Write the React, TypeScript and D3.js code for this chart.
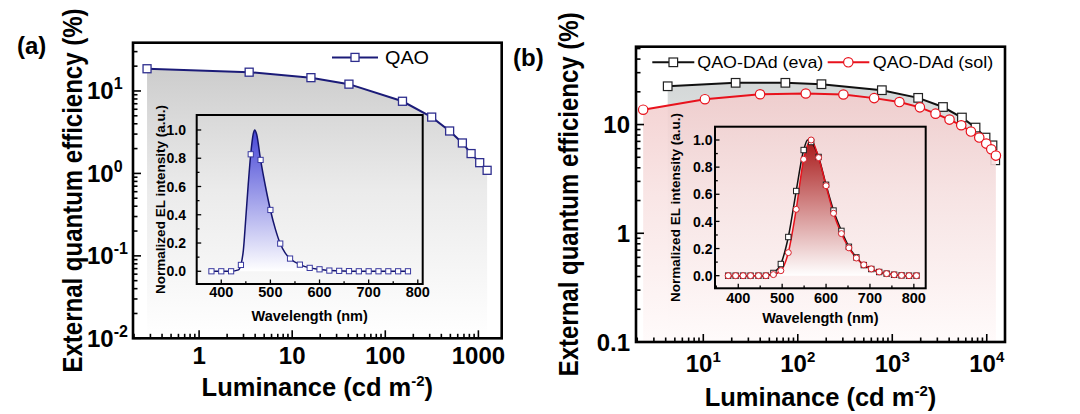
import React from "react";
import * as d3 from "d3";

const FONT = "'Liberation Sans', Arial, Helvetica, sans-serif";

// ---------- Panel (a): QAO EQE vs luminance ----------
const qaoLum = [0.276, 3.45, 15.9, 40.7, 153, 315, 491, 673, 835, 1033, 1241];
const qaoEqe = [18.6, 16.9, 14.5, 12.1, 7.5, 4.82, 3.27, 2.34, 1.74, 1.35, 1.09];

// Panel (a) inset: EL spectrum markers and line
const qaoWl = [380, 400, 420, 440, 460, 480, 500, 520, 540, 560, 580, 600, 620, 640, 660, 680, 700, 720, 740, 760, 780];
const qaoEl = [0, 0, 0, 0.045, 0.828, 0.788, 0.434, 0.196, 0.09, 0.047, 0.024, 0.014, 0.005, 0.003, 0.001, 0, 0, 0, 0, 0, 0];
const qaoLineWl = [380, 420, 435, 440, 445, 450, 455, 460, 465, 468, 472, 480, 490, 500, 510, 520, 530, 540, 560, 580, 600, 620, 640, 660, 780];
const qaoLineEl = [0, 0, 0.01, 0.045, 0.15, 0.38, 0.62, 0.83, 0.97, 1.0, 0.97, 0.79, 0.6, 0.434, 0.3, 0.196, 0.13, 0.09, 0.047, 0.024, 0.014, 0.005, 0.003, 0.001, 0];

// ---------- Panel (b): QAO-DAd (eva) / (sol) ----------
const evaLum = [4.2, 22.0, 73.9, 178, 776, 1880, 3440, 5460, 7610, 9710, 11500, 12300];
const evaEqe = [22.5, 24.2, 24.2, 23.5, 20.7, 17.6, 14.5, 11.6, 9.38, 7.59, 6.44, 4.69];
const solLum = [2.31, 10.4, 39.9, 121.5, 304, 643, 1191, 1960, 2870, 4035, 5370, 6800, 8330, 9880, 11160, 12500];
const solEqe = [13.7, 17.1, 19.0, 19.3, 18.9, 17.5, 16.1, 14.4, 12.6, 11.1, 9.85, 8.62, 7.59, 6.68, 5.92, 5.18];

// Panel (b) inset spectra
const bWl = [377, 394, 411, 428, 446, 463, 480, 497, 514, 532, 549, 566, 583, 600, 617, 635, 652, 669, 686, 703, 721, 738, 755, 772, 789, 806];
const evaEl = [0, 0, 0, 0, 0, 0, 0.02, 0.086, 0.285, 0.624, 0.926, 0.985, 0.875, 0.67, 0.48, 0.33, 0.213, 0.135, 0.078, 0.049, 0.027, 0.015, 0.007, 0.002, 0, 0];
const solEl = [0, 0, 0, 0, 0, 0, 0.008, 0.037, 0.17, 0.489, 0.858, 1.0, 0.87, 0.663, 0.46, 0.31, 0.205, 0.13, 0.08, 0.05, 0.028, 0.015, 0.007, 0.002, 0, 0];
const evaLineWl = [377, 463, 480, 497, 514, 532, 549, 558, 566, 583, 600, 617, 635, 652, 669, 686, 703, 721, 738, 755, 772, 789, 806];
const evaLineEl = [0, 0, 0.02, 0.086, 0.285, 0.624, 0.926, 1.0, 0.985, 0.875, 0.67, 0.48, 0.33, 0.213, 0.135, 0.078, 0.049, 0.027, 0.015, 0.007, 0.002, 0, 0];

// tick labels
const aXTicks = [1, 10, 100, 1000];
const aYTicks = [0.01, 0.1, 1, 10];
const aYExp = ["-2", "-1", "0", "1"];
const bXTicks = [10, 100, 1000, 10000];
const bXExp = ["1", "2", "3", "4"];
const bYTicks = [0.1, 1, 10];
const bYLabels = ["0.1", "1", "10"];
const insetXTicks = [400, 500, 600, 700, 800];
const insetYTicks = [0, 0.2, 0.4, 0.6, 0.8, 1.0];

function logTicks(domain: number[]) {
  const [a, b] = domain;
  const out: { v: number; major: boolean }[] = [];
  for (let e = Math.floor(Math.log10(a)) - 1; e <= Math.ceil(Math.log10(b)); e++) {
    for (let k = 1; k <= 9; k++) {
      const v = k * Math.pow(10, e);
      if (v >= a * 0.9999 && v <= b * 1.0001) out.push({ v, major: k === 1 });
    }
  }
  return out;
}

function linTicks(domain: number[], step: number, majorStep: number) {
  const out: { v: number; major: boolean }[] = [];
  const start = Math.ceil(domain[0] / step - 1e-9) * step;
  for (let v = start; v <= domain[1] + 1e-9; v += step) {
    const r = Math.round(v / step) * step;
    out.push({ v: r, major: Math.abs(r / majorStep - Math.round(r / majorStep)) < 1e-6 });
  }
  return out;
}

function Frame({ x, y, w, h, sw }: any) {
  return <rect x={x} y={y} width={w} height={h} fill="none" stroke="#000" strokeWidth={sw} />;
}

export default function App() {
  // ----- scales -----
  const xA = d3.scaleLog().domain([0.195, 1780]).range([133, 501.7]);
  const yA = d3.scaleLog().domain([0.01, 38.5]).range([338.3, 42.7]);
  const xB = d3.scaleLog().domain([1.94, 15600]).range([636, 1005]);
  const yB = d3.scaleLog().domain([0.1, 52]).range([342, 46.7]);
  const ixA = d3.scaleLinear().domain([350, 810]).range([196.7, 422.7]);
  const iyA = d3.scaleLinear().domain([-0.09, 1.106]).range([284, 115]);
  const ixB = d3.scaleLinear().domain([347, 827]).range([715, 925.7]);
  const iyB = d3.scaleLinear().domain([-0.093, 1.098]).range([288.3, 126.7]);

  const qao = qaoLum.map((l, i) => [l, qaoEqe[i]] as [number, number]);
  const eva = evaLum.map((l, i) => [l, evaEqe[i]] as [number, number]);
  const sol = solLum.map((l, i) => [l, solEqe[i]] as [number, number]);

  const lineA = d3.line<[number, number]>().x((d) => xA(d[0])).y((d) => yA(d[1]));
  const areaA = d3.area<[number, number]>().x((d) => xA(d[0])).y0(yA.range()[0]).y1((d) => yA(d[1]));
  const lineB = d3.line<[number, number]>().x((d) => xB(d[0])).y((d) => yB(d[1]));
  const areaB = d3.area<[number, number]>().x((d) => xB(d[0])).y0(yB.range()[0]).y1((d) => yB(d[1]));

  const qaoLine = qaoLineWl.map((w, i) => [w, qaoLineEl[i]] as [number, number]);
  const qaoPts = qaoWl.map((w, i) => [w, qaoEl[i]] as [number, number]);
  const iLineA = d3.line<[number, number]>().x((d) => ixA(d[0])).y((d) => iyA(d[1])).curve(d3.curveMonotoneX);
  const iAreaA = d3.area<[number, number]>().x((d) => ixA(d[0])).y0(iyA(0)).y1((d) => iyA(d[1])).curve(d3.curveMonotoneX);

  const evaLine = evaLineWl.map((w, i) => [w, evaLineEl[i]] as [number, number]);
  const solLine = bWl.map((w, i) => [w, solEl[i]] as [number, number]);
  const evaPts = bWl.map((w, i) => [w, evaEl[i]] as [number, number]);
  const iLineB = d3.line<[number, number]>().x((d) => ixB(d[0])).y((d) => iyB(d[1])).curve(d3.curveMonotoneX);
  const iAreaB = d3.area<[number, number]>().x((d) => ixB(d[0])).y0(iyB(0)).y1((d) => iyB(d[1])).curve(d3.curveMonotoneX);

  const [ax0, ax1] = xA.range();
  const [ay0, ay1] = yA.range();
  const [bx0, bx1] = xB.range();
  const [by0, by1] = yB.range();

  const tickStroke = 1.6;

  const renderLogLeft = (scale: any, x0: number, key: string) =>
    logTicks(scale.domain()).map((t, i) => (
      <line key={key + i} x1={x0} x2={x0 + (t.major ? 8 : 4.5)} y1={scale(t.v)} y2={scale(t.v)} stroke="#000" strokeWidth={tickStroke} />
    ));
  const renderLogBottom = (scale: any, y0: number, key: string) =>
    logTicks(scale.domain()).map((t, i) => (
      <line key={key + i} x1={scale(t.v)} x2={scale(t.v)} y1={y0} y2={y0 - (t.major ? 8 : 4.5)} stroke="#000" strokeWidth={tickStroke} />
    ));

  const renderInset = (
    ix: any,
    iy: any,
    key: string,
    yLabelEnd: number,
    xLabelBase: number,
    yTitleX: number,
    xTitleY: number
  ) => {
    const [x0, x1] = ix.range();
    const [y0, y1] = iy.range();
    return (
      <g key={key}>
        <Frame x={x0} y={y1} w={x1 - x0} h={y0 - y1} sw={2} />
        {linTicks(ix.domain(), 50, 100).map((t, i) => (
          <line key={key + "xt" + i} x1={ix(t.v)} x2={ix(t.v)} y1={y0} y2={y0 - (t.major ? 4.5 : 2.8)} stroke="#000" strokeWidth={1.3} />
        ))}
        {linTicks([0, 1.05], 0.1, 0.2).map((t, i) => (
          <line key={key + "yt" + i} x1={x0} x2={x0 + (t.major ? 4.5 : 2.8)} y1={iy(t.v)} y2={iy(t.v)} stroke="#000" strokeWidth={1.3} />
        ))}
        {insetXTicks.map((v) => (
          <text key={key + "xl" + v} x={ix(v)} y={xLabelBase} textAnchor="middle" fontSize={14.5} fontWeight="bold">
            {v}
          </text>
        ))}
        {insetYTicks.map((v) => (
          <text key={key + "yl" + v} x={yLabelEnd} y={iy(v) + 5.2} textAnchor="end" fontSize={14} fontWeight="bold">
            {v.toFixed(1)}
          </text>
        ))}
        <text
          transform={`translate(${yTitleX},${(y0 + y1) / 2}) rotate(-90)`}
          textAnchor="middle"
          fontSize={13.5}
          fontWeight="bold"
        >
          Normalized EL intensity (a.u.)
        </text>
        <text x={(x0 + x1) / 2} y={xTitleY} textAnchor="middle" fontSize={14.5} fontWeight="bold">
          Wavelength (nm)
        </text>
      </g>
    );
  };

  return (
    <div style={{ position: "absolute", left: 0, top: 0, width: 1080, height: 414, background: "#fff" }}>
      <svg width={1080} height={414} style={{ display: "block" }} fontFamily={FONT}>
        <defs>
          <linearGradient id="gA" gradientUnits="userSpaceOnUse" x1={0} y1={ay1} x2={0} y2={ay0}>
            <stop offset="0" stopColor="#c6c6c6" />
            <stop offset="0.25" stopColor="#d9d9d9" />
            <stop offset="0.5" stopColor="#ebebeb" />
            <stop offset="0.8" stopColor="#f7f7f7" />
            <stop offset="1" stopColor="#ffffff" />
          </linearGradient>
          <linearGradient id="gBeva" gradientUnits="userSpaceOnUse" x1={0} y1={by1} x2={0} y2={by0}>
            <stop offset="0" stopColor="#ccd0d0" />
            <stop offset="0.5" stopColor="#eceeee" />
            <stop offset="1" stopColor="#ffffff" />
          </linearGradient>
          <linearGradient id="gBsol" gradientUnits="userSpaceOnUse" x1={0} y1={by1} x2={0} y2={by0}>
            <stop offset="0" stopColor="#efc2c2" />
            <stop offset="0.5" stopColor="#f8e2e2" />
            <stop offset="1" stopColor="#fffafa" />
          </linearGradient>
          <linearGradient id="giA" gradientUnits="userSpaceOnUse" x1={0} y1={iyA(1)} x2={0} y2={iyA(0)}>
            <stop offset="0" stopColor="#4646d6" />
            <stop offset="1" stopColor="#ffffff" />
          </linearGradient>
          <linearGradient id="giB" gradientUnits="userSpaceOnUse" x1={0} y1={iyB(1)} x2={0} y2={iyB(0)}>
            <stop offset="0" stopColor="#a81818" />
            <stop offset="1" stopColor="#ffffff" />
          </linearGradient>
        </defs>

        {/* ===================== Panel (a) ===================== */}
        <path d={areaA(qao) || ""} fill="url(#gA)" />
        <path d={lineA(qao) || ""} fill="none" stroke="#1b1b78" strokeWidth={2} />
        {qao.map((d, i) => (
          <rect key={"qa" + i} x={xA(d[0]) - 4} y={yA(d[1]) - 4} width={8} height={8} fill="#fff" stroke="#2e2e8e" strokeWidth={1.3} />
        ))}

        {/* inset (a) */}
        <path d={iAreaA(qaoLine) || ""} fill="url(#giA)" />
        <path d={iLineA(qaoLine) || ""} fill="none" stroke="#15156e" strokeWidth={1.5} />
        {qaoPts.map((d, i) => (
          <rect key={"qi" + i} x={ixA(d[0]) - 2.6} y={iyA(d[1]) - 2.6} width={5.2} height={5.2} fill="#fff" stroke="#3a3aa0" strokeWidth={1} />
        ))}
        {renderInset(ixA, iyA, "insA", 186, 297, 164.5, 321)}

        {/* axes (a) */}
        <Frame x={ax0} y={ay1} w={ax1 - ax0} h={ay0 - ay1} sw={2.6} />
        {renderLogLeft(yA, ax0, "aly")}
        {renderLogBottom(xA, ay0, "abx")}
        {aYTicks.map((v, i) => (
          <text key={"ayl" + i} x={87} y={yA(v) + 8.5} textAnchor="start" fontSize={24} fontWeight="bold">
            10
            <tspan dy={-10} fontSize={16}>
              {aYExp[i]}
            </tspan>
          </text>
        ))}
        {aXTicks.map((v) => (
          <text key={"axl" + v} x={xA(v)} y={364} textAnchor="middle" fontSize={24} fontWeight="bold">
            {v}
          </text>
        ))}
        <text x={(ax0 + ax1) / 2} y={396} textAnchor="middle" fontSize={25.5} fontWeight="bold">
          Luminance (cd m
          <tspan dy={-10} fontSize={15}>
            -2
          </tspan>
          <tspan dy={10}>)</tspan>
        </text>
        <text transform={`translate(82,${(ay0 + ay1) / 2}) scale(1.15,1) rotate(-90)`} textAnchor="middle" fontSize={24} fontWeight="bold">
          External quantum efficiency (%)
        </text>
        {/* legend (a) */}
        <line x1={332} x2={378} y1={57.4} y2={57.4} stroke="#1b1b78" strokeWidth={2} />
        <rect x={351} y={53.4} width={8} height={8} fill="#fff" stroke="#2e2e8e" strokeWidth={1.3} />
        <text x={385} y={64} fontSize={18} textLength={44} lengthAdjust="spacingAndGlyphs">
          QAO
        </text>
        <text x={17} y={54} fontSize={24} fontWeight="bold">
          (a)
        </text>

        {/* ===================== Panel (b) ===================== */}
        <path d={areaB(eva) || ""} fill="url(#gBeva)" />
        <path d={lineB(eva) || ""} fill="none" stroke="#111" strokeWidth={2} />
        {eva.map((d, i) => (
          <rect key={"ev" + i} x={xB(d[0]) - 4.3} y={yB(d[1]) - 4.3} width={8.6} height={8.6} fill="#fff" stroke="#222" strokeWidth={1.2} />
        ))}
        <path d={areaB(sol) || ""} fill="url(#gBsol)" opacity={0.88} />
        <path d={lineB(sol) || ""} fill="none" stroke="#e8121c" strokeWidth={2} />
        {sol.map((d, i) => (
          <circle key={"so" + i} cx={xB(d[0])} cy={yB(d[1])} r={4.7} fill="#fff" stroke="#e8121c" strokeWidth={1.2} />
        ))}

        {/* inset (b) */}
        <path d={iAreaB(solLine) || ""} fill="url(#giB)" />
        <path d={iLineB(evaLine) || ""} fill="none" stroke="#111" strokeWidth={1.5} />
        <path d={iLineB(solLine) || ""} fill="none" stroke="#e8121c" strokeWidth={1.5} />
        {evaPts.map((d, i) => (
          <rect key={"ei" + i} x={ixB(d[0]) - 2.7} y={iyB(d[1]) - 2.7} width={5.4} height={5.4} fill="#fff" stroke="#222" strokeWidth={1} />
        ))}
        {solLine.map((d, i) => (
          <circle key={"si" + i} cx={ixB(d[0])} cy={iyB(d[1])} r={3} fill="#fff" stroke="#d8202a" strokeWidth={1} />
        ))}
        {renderInset(ixB, iyB, "insB", 712.5, 303, 680, 323)}

        {/* axes (b) */}
        <Frame x={bx0} y={by1} w={bx1 - bx0} h={by0 - by1} sw={2.6} />
        {renderLogLeft(yB, bx0, "bly")}
        {renderLogBottom(xB, by0, "bbx")}
        {bYTicks.map((v, i) => (
          <text key={"byl" + i} x={630} y={yB(v) + 8.5} textAnchor="end" fontSize={24} fontWeight="bold">
            {bYLabels[i]}
          </text>
        ))}
        {bXTicks.map((v, i) => (
          <text key={"bxl" + i} x={xB(v)} y={371.5} textAnchor="middle" fontSize={24} fontWeight="bold">
            10
            <tspan dy={-10} fontSize={15}>
              {bXExp[i]}
            </tspan>
          </text>
        ))}
        <text x={(bx0 + bx1) / 2} y={406} textAnchor="middle" fontSize={25.5} fontWeight="bold">
          Luminance (cd m
          <tspan dy={-10} fontSize={15}>
            -2
          </tspan>
          <tspan dy={10}>)</tspan>
        </text>
        <text transform={`translate(578,${(by0 + by1) / 2}) scale(1.15,1) rotate(-90)`} textAnchor="middle" fontSize={24} fontWeight="bold">
          External quantum efficiency (%)
        </text>
        {/* legend (b) */}
        <line x1={652.3} x2={694.3} y1={62.3} y2={62.3} stroke="#111" strokeWidth={2} />
        <rect x={669} y={58} width={8.6} height={8.6} fill="#fff" stroke="#222" strokeWidth={1.2} />
        <text x={697.3} y={67.7} fontSize={17} textLength={126} lengthAdjust="spacingAndGlyphs">
          QAO-DAd (eva)
        </text>
        <line x1={827.7} x2={869.3} y1={62.3} y2={62.3} stroke="#e8121c" strokeWidth={2} />
        <circle cx={848.3} cy={62.3} r={4.7} fill="#fff" stroke="#e8121c" strokeWidth={1.2} />
        <text x={872.7} y={67.7} fontSize={17} textLength={120.5} lengthAdjust="spacingAndGlyphs">
          QAO-DAd (sol)
        </text>
        <text x={513} y={66} fontSize={24} fontWeight="bold">
          (b)
        </text>
      </svg>
    </div>
  );
}
